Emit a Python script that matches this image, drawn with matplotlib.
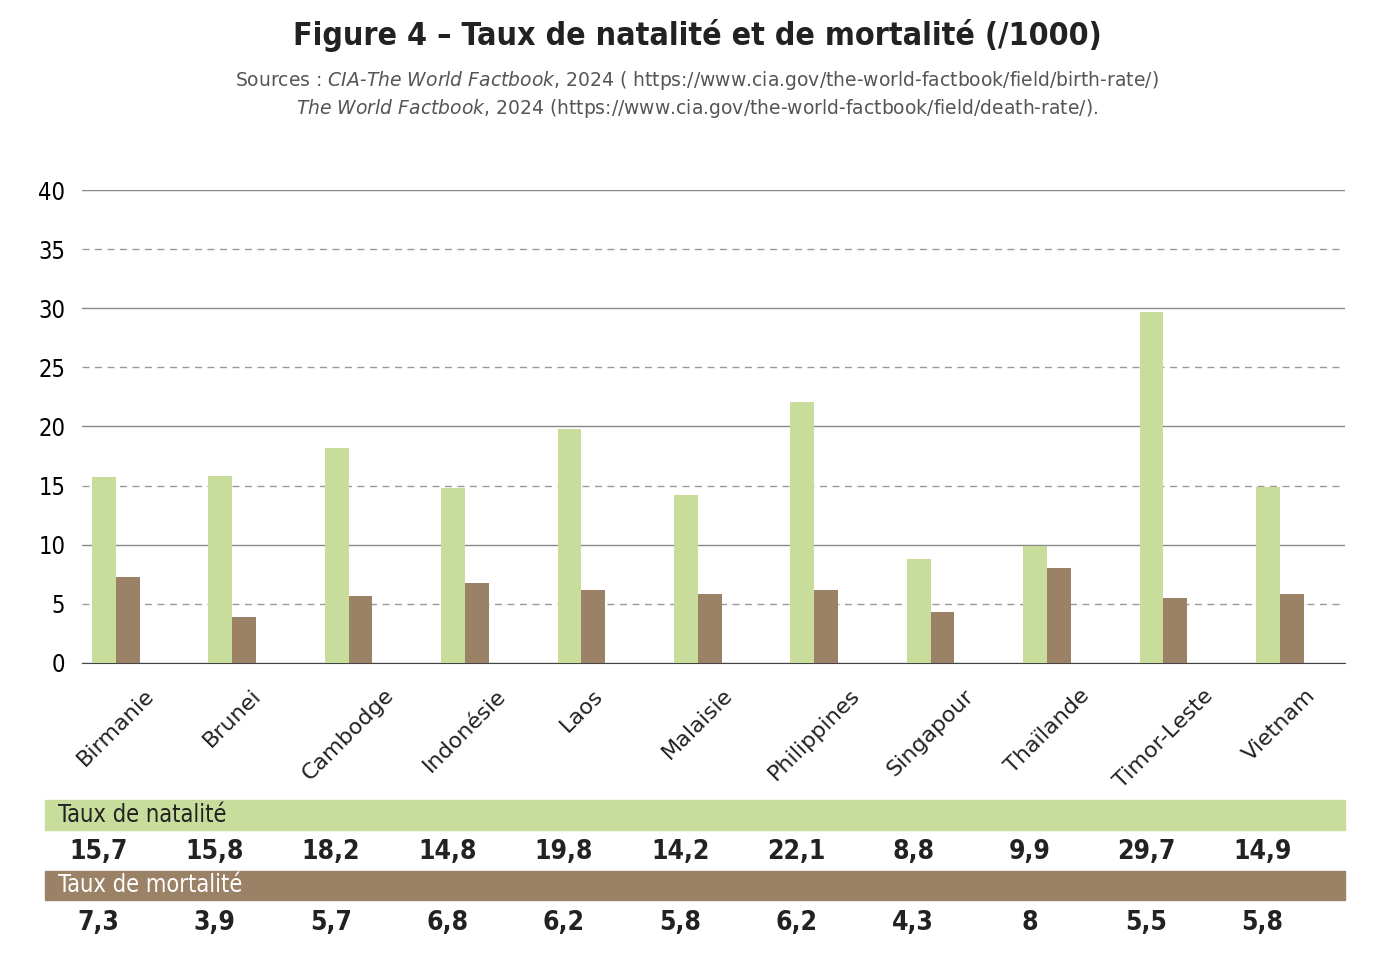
import numpy as np
import matplotlib.pyplot as plt
from matplotlib.patches import Rectangle

countries = ["Birmanie", "Brunei", "Cambodge", "Indonésie", "Laos", "Malaisie",
             "Philippines", "Singapour", "Thaïlande", "Timor-Leste", "Vietnam"]
natalite = [15.7, 15.8, 18.2, 14.8, 19.8, 14.2, 22.1, 8.8, 9.9, 29.7, 14.9]
mortalite = [7.3, 3.9, 5.7, 6.8, 6.2, 5.8, 6.2, 4.3, 8, 5.5, 5.8]

green = "#c8dc9b"
brown = "#9b8166"

fig = plt.figure(figsize=(13.94, 9.59), dpi=100)
ax = fig.add_axes([82 / 1394, 1 - 663 / 959, (1345 - 82) / 1394, (663 - 190) / 959])

x = np.arange(len(countries))
w = 0.205
ax.bar(x - w / 2, natalite, w, color=green, zorder=3)
ax.bar(x + w / 2, mortalite, w, color=brown, zorder=3)

ax.set_xlim(-0.29, 10.56)
ax.set_ylim(0, 40)
ax.set_yticks(range(0, 41, 5))
ax.tick_params(axis="y", length=0, labelsize=17, pad=12)
for lab in ax.get_yticklabels():
    lab.set_fontstretch("condensed")
ax.tick_params(axis="x", length=0)
for v in range(0, 41, 5):
    if v % 10 == 0:
        ax.axhline(v, color="#888888", lw=1, zorder=1)
    else:
        ax.axhline(v, color="#999999", lw=1, ls=(0, (5, 4)), zorder=1)
for s in ["top", "right", "left"]:
    ax.spines[s].set_visible(False)
ax.spines["bottom"].set_color("#444444")
ax.set_xticks(x)
ax.set_xticklabels(countries, rotation=45, ha="center", fontsize=16, color="#222222")
ax.tick_params(axis="x", pad=16)

fig.text(0.5, 1 - 35 / 959, "Figure 4 – Taux de natalité et de mortalité (/1000)",
         ha="center", va="center", fontsize=23, fontweight="bold", color="#222222",
         fontstretch="condensed")
fig.text(0.5, 1 - 80 / 959,
         "Sources : $\\it{CIA\\text{-}The\\ World\\ Factbook}$, 2024 ( https://www.cia.gov/the-world-factbook/field/birth-rate/)",
         ha="center", va="center", fontsize=13.5, color="#555555")
fig.text(0.5, 1 - 109 / 959,
         "$\\it{The\\ World\\ Factbook}$, 2024 (https://www.cia.gov/the-world-factbook/field/death-rate/).",
         ha="center", va="center", fontsize=13.5, color="#555555")

# table below the chart
x0, x1 = 45 / 1394, 1345 / 1394
bands = [(800, 830, green, "Taux de natalité", "#222222", natalite, 852),
         (871, 900, brown, "Taux de mortalité", "white", mortalite, 923)]
for top, bot, col, label, tcol, vals, vy in bands:
    fig.patches.append(Rectangle((x0, 1 - bot / 959), x1 - x0, (bot - top) / 959,
                                 transform=fig.transFigure, color=col))
    fig.text(58 / 1394, 1 - (top + bot) / 2 / 959, label, va="center",
             fontsize=17, color=tcol, fontstretch="condensed")
    for i, v in enumerate(vals):
        xf = fig.transFigure.inverted().transform(ax.transData.transform((i - 0.15, 0)))[0]
        fig.text(xf, 1 - vy / 959, f"{v:g}".replace(".", ","), ha="center",
                 va="center", fontsize=19, fontweight="bold", color="#222222",
                 fontstretch="condensed")

fig.savefig("out.png", dpi=100, facecolor="white")
